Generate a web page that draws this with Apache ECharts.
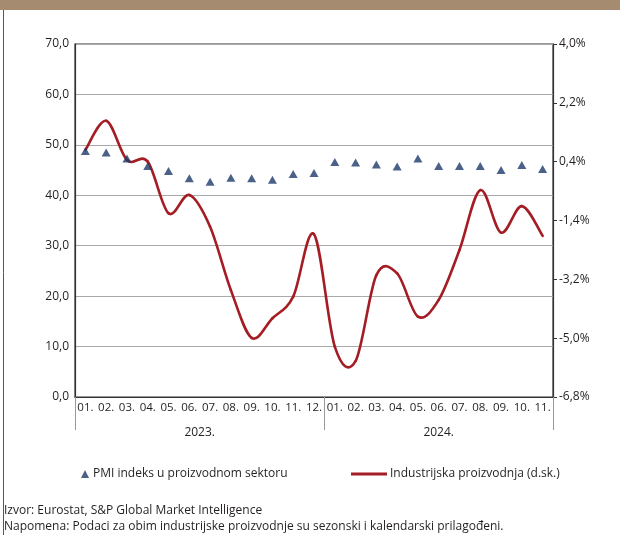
<!DOCTYPE html>
<html>
<head>
<meta charset="utf-8">
<script src="https://cdn.jsdelivr.net/npm/echarts@6/dist/echarts.min.js"></script>
<style>
  html, body { margin: 0; padding: 0; background: #fff; }
  #main { width: 620px; height: 535px; }
</style>
</head>
<body>
<div id="main"></div>
<script>
// NOTE - data

const months = ['01.', '02.', '03.', '04.', '05.', '06.', '07.', '08.', '09.', '10.', '11.', '12.',
                '01.', '02.', '03.', '04.', '05.', '06.', '07.', '08.', '09.', '10.', '11.'];
const years = ['2023.', '2024.'];

// PMI (left axis)
const pmi = [48.8, 48.5, 47.3, 45.8, 44.8, 43.4, 42.7, 43.5, 43.4, 43.1, 44.2, 44.4,
             46.6, 46.5, 46.1, 45.7, 47.3, 45.8, 45.8, 45.8, 45.0, 46.0, 45.2];

// industrijska proizvodnja, % (right axis)
const industry = [0.76, 1.65, 0.45, 0.40, -1.18, -0.62, -1.59, -3.53, -4.99, -4.39, -3.73, -1.82,
                  -5.26, -5.70, -3.07, -3.02, -4.34, -3.83, -2.30, -0.47, -1.77, -0.96, -1.87];

const pmiName = 'PMI indeks u proizvodnom sektoru';
const indName = 'Industrijska proizvodnja (d.sk.)';

const font = 'Open Sans';
const textColor = '#231f20';
const red = '#a51d24';

var myChart = echarts.init(document.getElementById('main'));

// NOTE - Excel-like smooth line, one bezier segment per point (catmull-rom)
function renderSmoothSegment(params, api) {
  const i = params.dataIndex;
  const n = industry.length;
  if (i >= n - 1) return null;
  const pt = k => api.coord([Math.min(Math.max(k, 0), n - 1), industry[Math.min(Math.max(k, 0), n - 1)]]);
  const p0 = pt(i - 1), p1 = pt(i), p2 = pt(i + 1), p3 = pt(i + 2);
  const t = 1 / 6;
  return {
    type: 'bezierCurve',
    shape: {
      x1: p1[0], y1: p1[1],
      x2: p2[0], y2: p2[1],
      cpx1: p1[0] + (p2[0] - p0[0]) * t, cpy1: p1[1] + (p2[1] - p0[1]) * t,
      cpx2: p2[0] - (p3[0] - p1[0]) * t, cpy2: p2[1] - (p3[1] - p1[1]) * t
    },
    style: { stroke: red, lineWidth: 2.6, fill: null, lineCap: 'round' }
  };
}

var option = {
  animation: false,
  textStyle: { fontFamily: font },
  grid: {
    left: 75, right: 67, top: 44, bottom: 138,
    show: true, borderColor: '#333', borderWidth: 1.2
  },
  graphic: [
    { type: 'rect', shape: { x: 0, y: 0, width: 620, height: 10 }, style: { fill: '#a58c71' } },
    { type: 'line', shape: { x1: 3.5, y1: 10, x2: 3.5, y2: 535 }, style: { stroke: '#555', lineWidth: 1 } },
    { type: 'text', left: 4, top: 505,
      style: { text: 'Izvor: Eurostat, S&P Global Market Intelligence', font: '12px "Open Sans"', fill: textColor } },
    { type: 'text', left: 4, top: 521,
      style: { text: 'Napomena: Podaci za obim industrijske proizvodnje su sezonski i kalendarski prilagođeni.', font: '12px "Open Sans"', fill: textColor } }
  ],
  legend: [
    {
      data: [pmiName], left: 76, top: 463,
      icon: 'triangle', itemWidth: 8, itemHeight: 8,
      textStyle: { fontSize: 12, color: textColor, fontFamily: font, padding: [0, 0, 0, -1] }
    },
    {
      data: [indName], left: 346, top: 463,
      icon: 'rect', itemWidth: 36, itemHeight: 3,
      textStyle: { fontSize: 12, color: textColor, fontFamily: font, padding: [0, 0, 0, -2] }
    }
  ],
  xAxis: [
    {
      type: 'category',
      data: months,
      axisLine: { onZero: false, lineStyle: { color: '#333', width: 1.2 } },
      axisTick: { show: false },
      axisLabel: { color: textColor, fontSize: 11.5, margin: 5, interval: 0 }
    },
    {
      type: 'value',
      min: 0, max: months.length,
      position: 'bottom',
      axisLine: { show: false, onZero: false },
      splitLine: { show: false },
      axisTick: { show: true, length: 33, customValues: [0, 12, 23], lineStyle: { color: '#999', width: 1 } },
      axisLabel: {
        customValues: [6, 17.5], margin: 30, fontSize: 12, color: textColor,
        formatter: v => (v < 12 ? years[0] : years[1])
      }
    }
  ],
  yAxis: [
    {
      type: 'value', min: 0, max: 70, interval: 10,
      axisLine: { show: true, lineStyle: { color: '#333', width: 1.2 } },
      axisTick: { show: false },
      splitLine: { lineStyle: { color: '#aaa', width: 1 } },
      axisLabel: { color: textColor, fontSize: 12, margin: 6, formatter: v => v.toFixed(1).replace('.', ',') }
    },
    {
      type: 'value', min: -6.8, max: 4.0, interval: 1.8,
      axisLine: { show: true, lineStyle: { color: '#333', width: 1.2 } },
      axisTick: { show: true, length: 4, lineStyle: { color: '#333' } },
      splitLine: { show: false },
      axisLabel: { color: textColor, fontSize: 12, margin: 6, formatter: v => v.toFixed(1).replace('.', ',') + '%' }
    }
  ],
  series: [
    {
      name: pmiName,
      type: 'scatter',
      data: pmi,
      symbol: 'triangle',
      symbolSize: [9, 8],
      itemStyle: { color: '#1f3a6a' },
      z: 3
    },
    {
      name: indName,
      type: 'custom',
      yAxisIndex: 1,
      data: industry.map((v, i) => [i, v]),
      encode: { x: 0, y: 1 },
      renderItem: renderSmoothSegment,
      itemStyle: { color: red },
      z: 2
    }
  ]
};

myChart.setOption(option);
</script>
</body>
</html>
